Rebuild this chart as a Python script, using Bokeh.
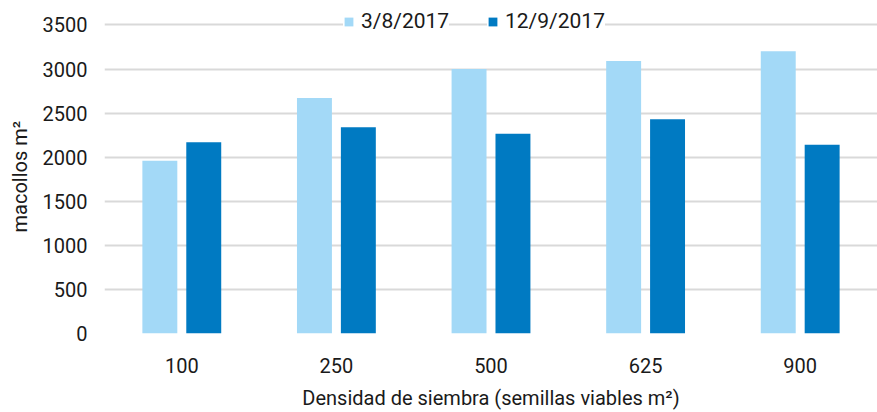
from bokeh.plotting import figure
from bokeh.models import ColumnDataSource, FactorRange, Range1d, Legend, LegendItem, SingleIntervalTicker, Title
from bokeh.transform import dodge
from bokeh.embed import file_html
from bokeh.resources import INLINE

categories = ["100", "250", "500", "625", "900"]
serie_a_label = "3/8/2017"
serie_b_label = "12/9/2017"
serie_a = [1960, 2670, 3000, 3090, 3200]
serie_b = [2170, 2340, 2265, 2430, 2140]
y_title = "macollos m²"
x_title = "Densidad de siembra (semillas viables m²)"

LIGHT = "#A3D9F7"
DARK = "#007AC2"
FONT = "Roboto"

src = ColumnDataSource(dict(cat=categories, a=serie_a, b=serie_b))

p = figure(
    x_range=FactorRange(*categories, range_padding=0),
    y_range=Range1d(0, 3777),
    width=877, height=412,
    output_backend="svg", toolbar_location=None,
    min_border_left=104, min_border_right=0, min_border_top=0, min_border_bottom=78,
)
p.outline_line_color = None

ra = p.vbar(x=dodge("cat", -0.142, range=p.x_range), top="a", width=0.226, source=src,
            fill_color=LIGHT, line_color=None)
rb = p.vbar(x=dodge("cat", 0.142, range=p.x_range), top="b", width=0.226, source=src,
            fill_color=DARK, line_color=None)

p.xgrid.grid_line_color = None
p.ygrid.grid_line_color = "#D9D9D9"
p.ygrid.grid_line_width = 2
p.yaxis.ticker = SingleIntervalTicker(interval=500)

for ax in (p.xaxis, p.yaxis):
    ax.axis_line_color = None
    ax.major_tick_line_color = None
    ax.minor_tick_line_color = None
    ax.major_label_text_font = FONT
    ax.major_label_text_font_size = "20px"
    ax.major_label_text_color = "#1a1a1a"
    ax.axis_label_text_font = FONT
    ax.axis_label_text_font_size = "20px"
    ax.axis_label_text_font_style = "normal"
    ax.axis_label_text_color = "#1a1a1a"

p.yaxis.major_label_standoff = 11
p.xaxis.axis_label = x_title
p.xaxis.major_label_standoff = 18
p.xaxis.axis_label_standoff = 10

ytitle = Title(text=y_title, align="left", vertical_align="top", offset=101, standoff=12,
               text_font=FONT, text_font_size="20px", text_font_style="normal",
               text_color="#1a1a1a")
p.add_layout(ytitle, "left")

def make_legend(label, r, x):
    lg = Legend(items=[LegendItem(label=label, renderers=[r])], location=(x, 300),
                orientation="horizontal", padding=5, margin=0, spacing=0,
                border_line_color=None, background_fill_color="white", background_fill_alpha=1,
                glyph_width=11, glyph_height=11, label_standoff=7,
                label_text_font=FONT, label_text_font_size="21px", label_text_color="#1a1a1a",
                label_height=22)
    return lg

p.add_layout(make_legend(serie_a_label, ra, 239), "center")
p.add_layout(make_legend(serie_b_label, rb, 383), "center")

open("out.html", "w").write(file_html(p, INLINE))
